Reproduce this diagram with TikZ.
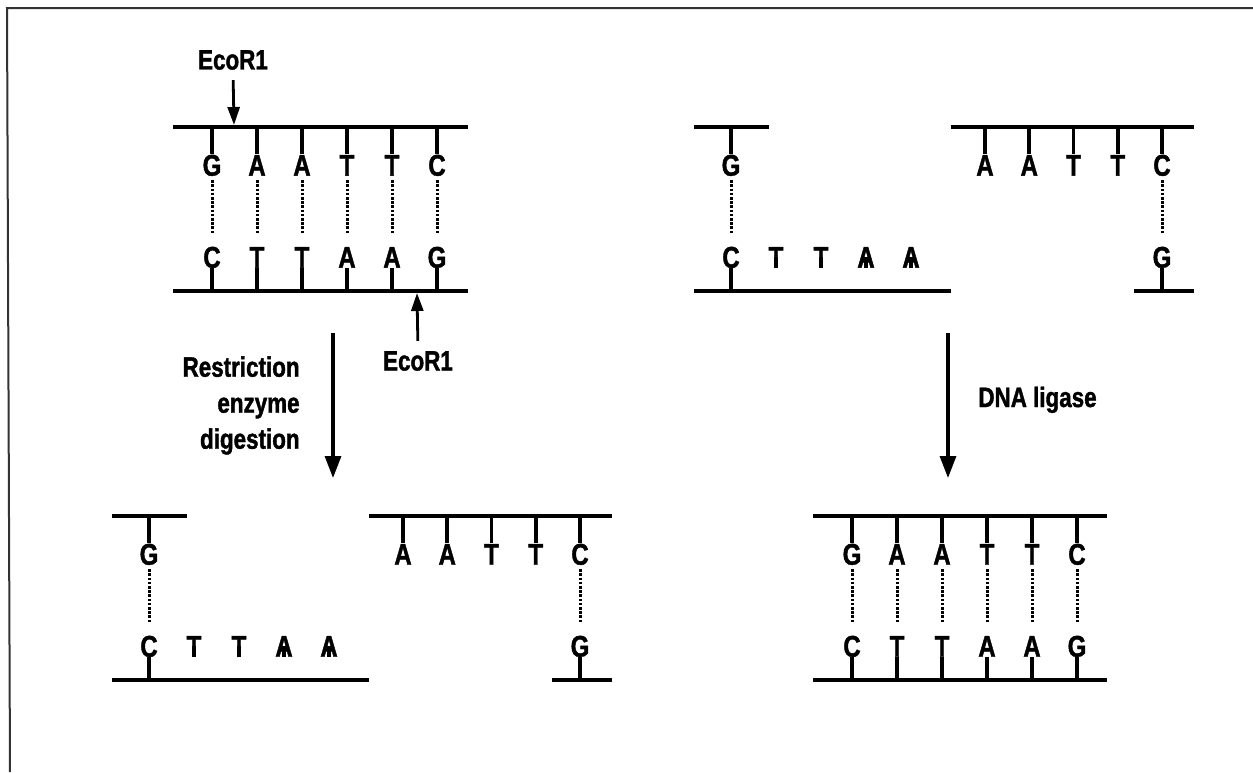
\documentclass[tikz,border=0pt]{standalone}
\usepackage{fontspec}
\setmainfont{Liberation Sans}[FakeStretch=0.8,BoldFeatures={FakeBold=1.4}]
\usetikzlibrary{arrows.meta}
\begin{document}
\begin{tikzpicture}[x=0.5pt,y=-0.5pt,
  strand/.style={line width=2pt},
  tickline/.style={line width=1.8pt},
  hbond/.style={line width=1.5pt,dash pattern=on 1.3pt off 0.8pt,shorten <=2pt,shorten >=6.5pt},
  base/.style={font=\fontsize{15}{15}\selectfont\bfseries,inner sep=0pt,text height=10.7pt,text depth=0pt},
  lbl/.style={font=\fontsize{14}{18}\selectfont\bfseries,inner sep=0pt},
  bigarrow/.style={line width=1.6pt,-{Triangle[length=11pt,width=8pt]}},
  smallarrow/.style={line width=1.4pt,-{Triangle[length=9pt,width=6pt]}},
  frame/.style={line width=1pt,draw=black!80}]
\useasboundingbox (0,0) rectangle (1253,772);
\fill[white] (0,0) rectangle (1253,772);
% frame (top and left edges of the scan)
\coordinate (f1) at (10,772);
\coordinate (f2) at (7,8);
\coordinate (f3) at (1253,8);
\draw[frame] (f1) -- (f2) -- (f3);

% ===== Panel A: intact site (top left) =====
\coordinate (A-tl) at (173,127); \coordinate (A-tr) at (468,127);
\coordinate (A-bl) at (173,291); \coordinate (A-br) at (468,291);
\draw[strand] (A-tl) -- (A-tr);
\draw[strand] (A-bl) -- (A-br);
\foreach \t/\b [count=\i from 0] in {G/C,A/T,A/T,T/A,T/A,C/G} {
  \node[base] (A-t\i) at ({212+45*\i},165) {\t};
  \node[base] (A-b\i) at ({212+45*\i},257) {\b};
  \draw[tickline] (A-t\i.north) -- (A-t\i.north |- A-tl);
  \draw[tickline] (A-b\i.south) -- (A-b\i.south |- A-bl);
  \draw[hbond] (A-t\i.south) -- (A-b\i.north);
}
% EcoR1 cut markers
\node[lbl] (eco1) at (233,60) {EcoR1};
\coordinate (cut1) at (234,125);
\draw[smallarrow,shorten <=5pt] (eco1.south) -- (cut1);
\node[lbl] (eco2) at (418,361) {EcoR1};
\coordinate (cut2) at (417,293);
\draw[smallarrow,shorten <=5pt] (eco2.north) -- (cut2);

% restriction arrow
\coordinate (r1) at (333,333); \coordinate (r2) at (333,478);
\draw[bigarrow] (r1) -- (r2);
\node[lbl,align=right,anchor=north east] (rlab) at (300,356) {Restriction\\enzyme\\digestion};

% ===== Panel B: cut fragments (bottom left) =====
\coordinate (B-l1) at (112,516); \coordinate (B-l2) at (187,516);
\coordinate (B-b1) at (112,680); \coordinate (B-b2) at (369,680);
\coordinate (B-r1) at (369,516); \coordinate (B-r2) at (612,516);
\coordinate (B-s1) at (552,680); \coordinate (B-s2) at (612,680);
\draw[strand] (B-l1) -- (B-l2);
\draw[strand] (B-b1) -- (B-b2);
\draw[strand] (B-r1) -- (B-r2);
\draw[strand] (B-s1) -- (B-s2);
\node[base] (B-g) at (149,554) {G};
\draw[tickline] (B-g.north) -- (B-g.north |- B-l1);
\foreach \b [count=\i from 0] in {C,T,T,A,A} {
  \node[base] (B-b\i) at ({149+45*\i},646) {\b};
  \draw[tickline] (B-b\i.south) -- (B-b\i.south |- B-b1);
}
\draw[hbond] (B-g.south) -- (B-b0.north);
\foreach \t [count=\i from 0] in {A,A,T,T,C} {
  \node[base] (B-t\i) at ({403+44.25*\i},554) {\t};
  \draw[tickline] (B-t\i.north) -- (B-t\i.north |- B-r1);
}
\node[base] (B-gg) at (580,646) {G};
\draw[tickline] (B-gg.south) -- (B-gg.south |- B-s1);
\draw[hbond] (B-t4.south) -- (B-gg.north);

% ===== Panel C: fragments (top right) =====
\coordinate (C-l1) at (694,127); \coordinate (C-l2) at (769,127);
\coordinate (C-b1) at (694,291); \coordinate (C-b2) at (951,291);
\coordinate (C-r1) at (951,127); \coordinate (C-r2) at (1194,127);
\coordinate (C-s1) at (1134,291); \coordinate (C-s2) at (1194,291);
\draw[strand] (C-l1) -- (C-l2);
\draw[strand] (C-b1) -- (C-b2);
\draw[strand] (C-r1) -- (C-r2);
\draw[strand] (C-s1) -- (C-s2);
\node[base] (C-g) at (731,165) {G};
\draw[tickline] (C-g.north) -- (C-g.north |- C-l1);
\foreach \b [count=\i from 0] in {C,T,T,A,A} {
  \node[base] (C-b\i) at ({731+45*\i},257) {\b};
  \draw[tickline] (C-b\i.south) -- (C-b\i.south |- C-b1);
}
\draw[hbond] (C-g.south) -- (C-b0.north);
\foreach \t [count=\i from 0] in {A,A,T,T,C} {
  \node[base] (C-t\i) at ({985+44.25*\i},165) {\t};
  \draw[tickline] (C-t\i.north) -- (C-t\i.north |- C-r1);
}
\node[base] (C-gg) at (1162,257) {G};
\draw[tickline] (C-gg.south) -- (C-gg.south |- C-s1);
\draw[hbond] (C-t4.south) -- (C-gg.north);

% ligase arrow
\coordinate (d1) at (948,333); \coordinate (d2) at (948,478);
\draw[bigarrow] (d1) -- (d2);
\node[lbl,anchor=base west] (dlab) at (978,407) {DNA ligase};

% ===== Panel D: ligated (bottom right) =====
\coordinate (D-tl) at (813,516); \coordinate (D-tr) at (1107,516);
\coordinate (D-bl) at (813,680); \coordinate (D-br) at (1107,680);
\draw[strand] (D-tl) -- (D-tr);
\draw[strand] (D-bl) -- (D-br);
\foreach \t/\b [count=\i from 0] in {G/C,A/T,A/T,T/A,T/A,C/G} {
  \node[base] (D-t\i) at ({852+45*\i},554) {\t};
  \node[base] (D-b\i) at ({852+45*\i},646) {\b};
  \draw[tickline] (D-t\i.north) -- (D-t\i.north |- D-tl);
  \draw[tickline] (D-b\i.south) -- (D-b\i.south |- D-bl);
  \draw[hbond] (D-t\i.south) -- (D-b\i.north);
}
\end{tikzpicture}
\end{document}
